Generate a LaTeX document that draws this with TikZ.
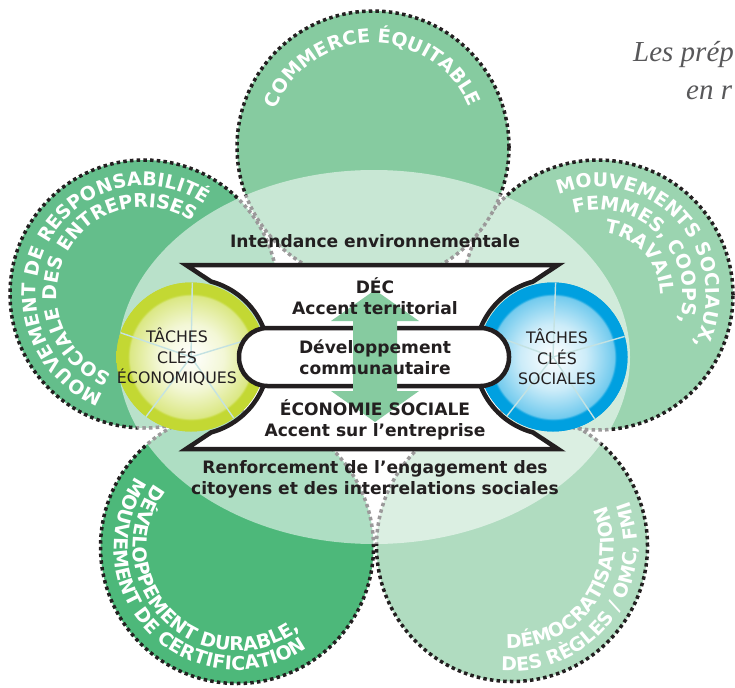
\documentclass[tikz,border=0pt]{standalone}
\usepackage{fontspec}
\setmainfont{DejaVu Sans}
\newfontfamily\garfont{Liberation Serif}
\usetikzlibrary{calc,decorations.text}

\definecolor{petTop}{HTML}{86CBA0}
\definecolor{petLeft}{HTML}{64BE8B}
\definecolor{petRight}{HTML}{9BD4B0}
\definecolor{petBL}{HTML}{4DB87A}
\definecolor{petBR}{HTML}{B0DCC0}
\definecolor{ink}{HTML}{231F20}
\definecolor{ringY}{HTML}{C3D833}
\definecolor{ringB}{HTML}{00A0E0}
\definecolor{arrowG}{HTML}{86CBA0}
\definecolor{spoke}{HTML}{C4E2E2}
\definecolor{titlegray}{HTML}{58585A}

\newcommand\petalfont{\fontsize{19}{19}\selectfont\bfseries}

\pgfdeclareradialshading{yglow}{\pgfpointorigin}{color(0bp)=(white); color(11bp)=(ringY!20!white); color(20.5bp)=(ringY!60!white); color(21.3bp)=(ringY); color(50bp)=(ringY)}
\pgfdeclareradialshading{bglow}{\pgfpointorigin}{color(0bp)=(white); color(11bp)=(ringB!20!white); color(20.5bp)=(ringB!55!white); color(21.3bp)=(ringB); color(50bp)=(ringB)}

\begin{document}
\begin{tikzpicture}[x=1pt,y=1pt,
  petal/.style={circle, inner sep=0pt, outer sep=0pt, minimum size=#1,
    draw=ink, line width=3.5pt, dash pattern=on 3.5pt off 3.2pt},
  petaltext/.style={decorate, decoration={text along path, text={|\petalfont|#1},
    text color=white, text align=center}},
  bowtie/.style={draw=ink, fill=white, line width=4.5pt, line join=miter},
  pill/.style={draw=ink, fill=white, line width=4.5pt, rounded corners=28.5pt,
    minimum width=270pt, minimum height=58pt, inner sep=0pt},
  keyring/.style={circle, inner sep=0pt, minimum size=149pt},
  midtext/.style={text=ink, align=center, inner sep=0pt,
    font=\fontsize{17.1}{21}\selectfont\bfseries},
  keytext/.style={text=ink, align=center, inner sep=0pt,
    font=\fontsize{15.8}{20.5}\selectfont},
  titletext/.style={text=titlegray, inner sep=0pt,
    font=\garfont\itshape\fontsize{29}{34}\selectfont}]
\useasboundingbox (0,0) rectangle (735,-687);

% petals
\node[petal=273pt, fill=petBL] (pbl) at (237,-547) {};
\node[petal=271pt, fill=petBR] (pbr) at (512,-546) {};
\node[petal=268pt, fill=petLeft] (pleft) at (144,-294) {};
\node[petal=270pt, fill=petRight] (pright) at (598,-295) {};
\node[petal=272pt, fill=petTop] (ptop) at (373,-147) {};

\path[petaltext={COMMERCE ÉQUITABLE}] ($(ptop)+(200:104)$) arc[start angle=200, end angle=-19, radius=104];
\path[petaltext={MOUVEMENT DE RESPONSABILITÉ}] ($(pleft)+(262:108)$) arc[start angle=262, end angle=42, radius=108];
\path[petaltext={SOCIALE DES ENTREPRISES}] ($(pleft)+(262:87)$) arc[start angle=262, end angle=42, radius=87];
\path[petaltext={MOUVEMENTS SOCIAUX,}] ($(pright)+(150:108)$) arc[start angle=150, end angle=-66, radius=108];
\path[petaltext={FEMMES, COOPS,}] ($(pright)+(152:85)$) arc[start angle=152, end angle=-64, radius=85];
\path[petaltext={TRAVAIL}] ($(pright)+(150:62)$) arc[start angle=150, end angle=-66, radius=62];
\path[petaltext={DÉVELOPPEMENT DURABLE,}] ($(pbl)+(118:104)$) arc[start angle=118, end angle=332, radius=104];
\path[petaltext={MOUVEMENT DE CERTIFICATION}] ($(pbl)+(118:123)$) arc[start angle=118, end angle=332, radius=123];
\path[petaltext={DÉMOCRATISATION}] ($(pbr)+(218:102)$) arc[start angle=218, end angle=432, radius=102];
\path[petaltext={DES RÈGLES / OMC, FMI}] ($(pbr)+(216:125)$) arc[start angle=216, end angle=430, radius=125];

% halo
\fill[white, opacity=.55] (374,-357) ellipse[x radius=256, y radius=187];

% key task circles
\node[keyring, fill=ringY] (ceco) at (191,-357) {};
\node[keyring, fill=ringB] (csoc) at (553,-357) {};
\shade[shading=yglow] (ceco.center) circle (74.5);
\shade[shading=bglow] (csoc.center) circle (74.5);
\foreach \a in {17,89,...,305} {
  \draw[spoke, line width=1.4pt] (ceco.center) -- ++(\a:74.5);
  \draw[spoke, line width=1.4pt] (csoc.center) -- ++(\a-1:74.5);
}

% hourglass
\draw[bowtie] (186,-265) -- (558,-265) -- ($(csoc.center)+(105:78)$)
  arc[start angle=105, end angle=157.4, radius=78] -- ++(0,-60)
  arc[start angle=202.6, end angle=255, radius=78] -- (558,-449) -- (186,-449)
  -- ($(ceco.center)+(-75:78)$) arc[start angle=-75, end angle=-22.6, radius=78]
  -- ++(0,60) arc[start angle=22.6, end angle=75, radius=78] -- cycle;
\node[pill] (dev) at (374,-357) {};

\fill[arrowG] (375,-290) -- (419,-321) -- (397,-321) -- (397,-391) -- (419,-391)
  -- (375,-422) -- (331,-391) -- (353,-391) -- (353,-321) -- (331,-321) -- cycle;

\node[midtext] (stew) at (375,-241) {Intendance environnementale};
\node[midtext] (dec) at (375,-296) {DÉC\\Accent territorial};
\node[midtext] (cdev) at (375,-357) {Développement\\communautaire};
\node[midtext] (ecosoc) at (375,-420) {ÉCONOMIE SOCIALE\\Accent sur l’entreprise};
\node[midtext] (civic) at (375,-479) {Renforcement de l’engagement des\\citoyens et des interrelations sociales};

\node[keytext] (teco) at (177,-357) {TÂCHES\\CLÉS\\ÉCONOMIQUES};
\node[keytext] (tsoc) at (557,-357) {TÂCHES\\CLÉS\\SOCIALES};

\node[titletext, anchor=base west] (title1) at (633,-62) {Les prép};
\node[titletext, anchor=base west] (title2) at (686,-100) {en r};

\end{tikzpicture}
\end{document}
